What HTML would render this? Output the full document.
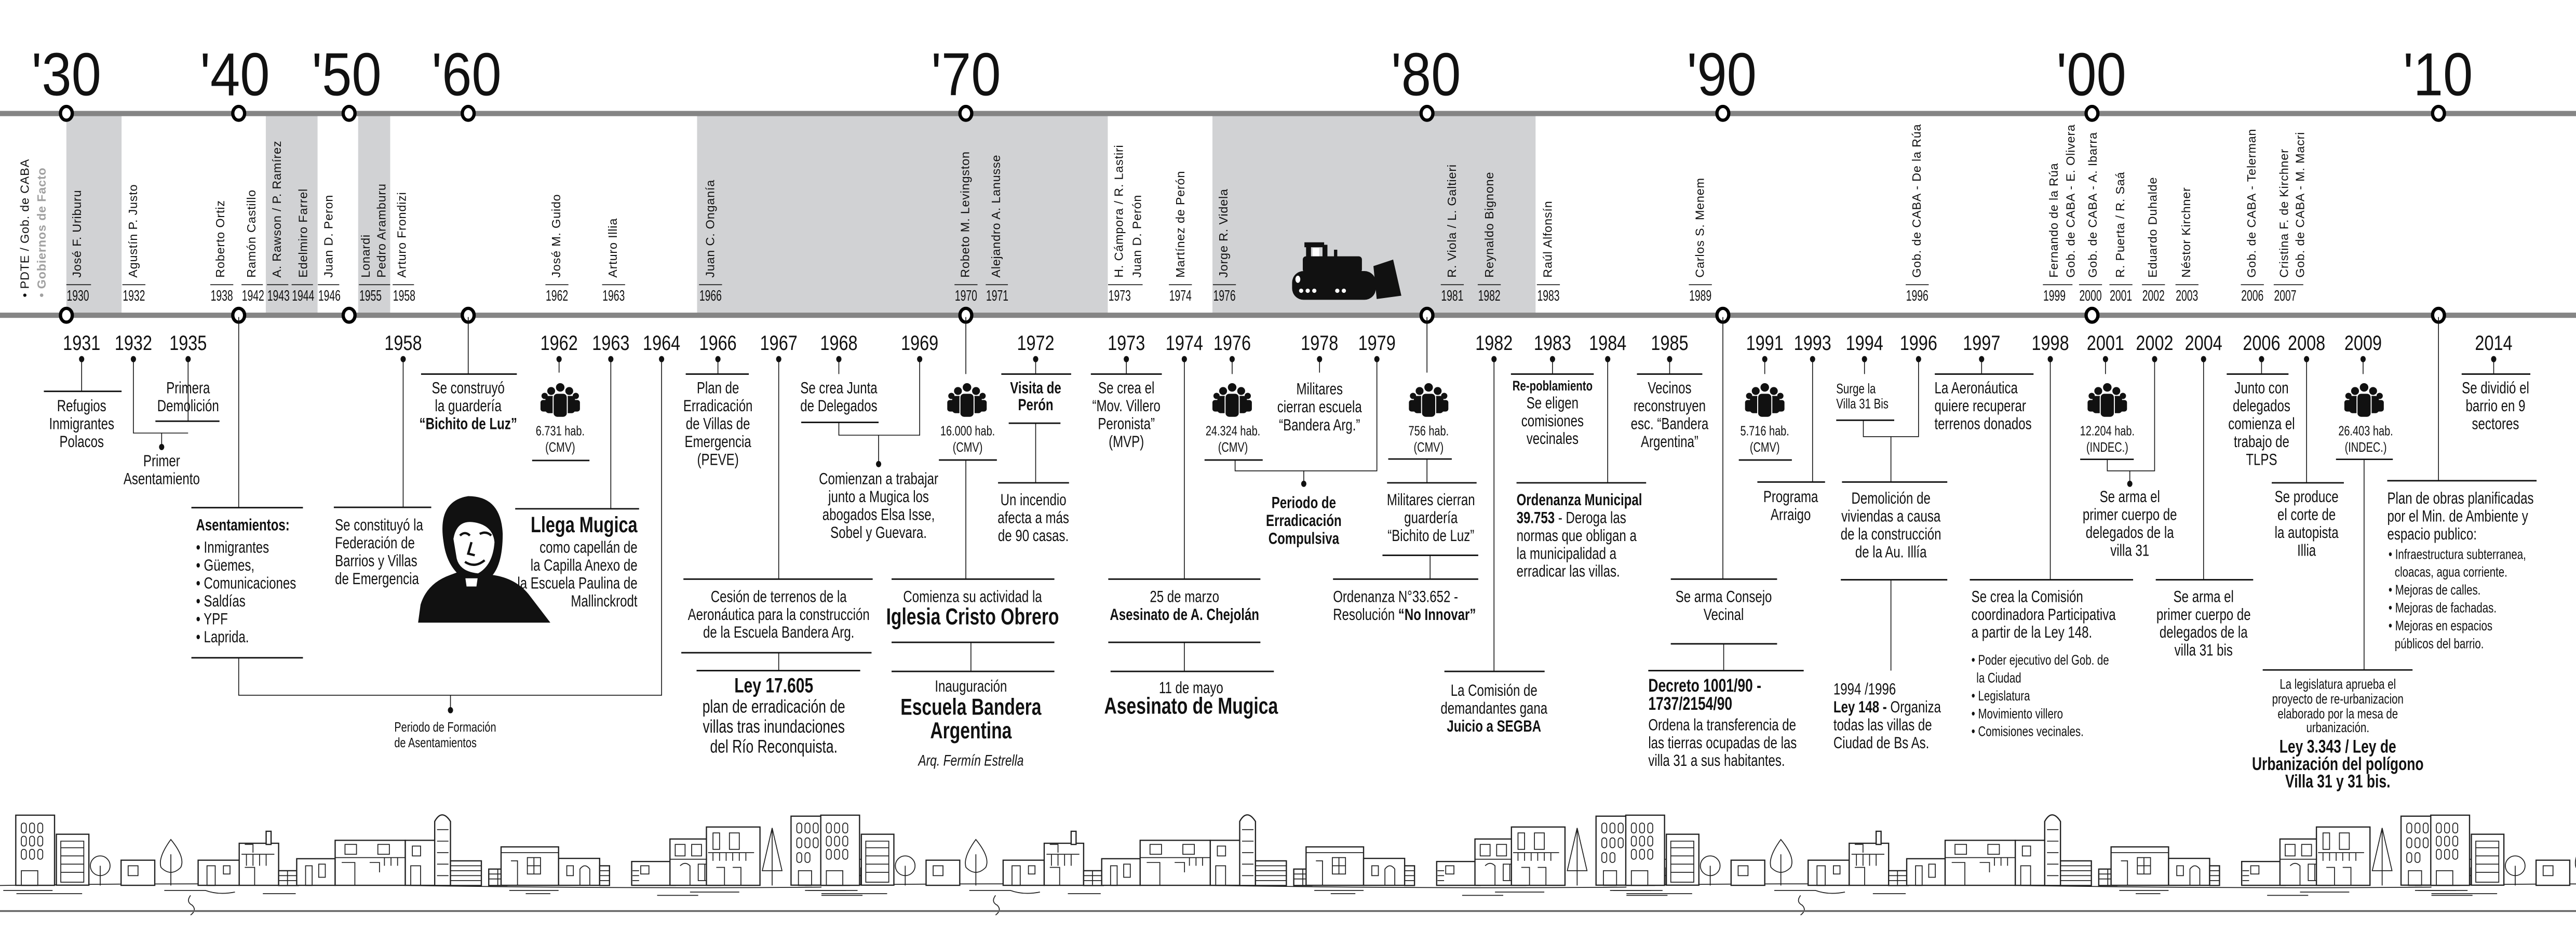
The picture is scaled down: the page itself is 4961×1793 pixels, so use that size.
<!DOCTYPE html>
<html><head><meta charset="utf-8">
<style>
html,body{margin:0;padding:0;background:#fff;}
svg{display:block;}
text{font-family:"Liberation Sans",Arial,sans-serif;fill:#111;}
.b{font-weight:bold;}
.h{stroke:#111;stroke-width:.9;fill:none;}
.v{stroke:#111;stroke-width:.5;fill:none;}
.gn{font-size:7.4px;letter-spacing:.25px;}
.sk{stroke:#222;stroke-width:.75;fill:#fff;}
.sk2{stroke:#222;stroke-width:.55;fill:none;}
</style></head>
<body>
<svg width="4961" height="1793" viewBox="0 0 1568 566.7" preserveAspectRatio="none" xmlns="http://www.w3.org/2000/svg">
<defs>
<g id="ppl" fill="#111">
<circle cx="-9.5" cy="8" r="1.9"/><rect x="-12" y="10.5" width="5" height="7" rx="1.5"/>
<circle cx="9.5" cy="8" r="1.9"/><rect x="7" y="10.5" width="5" height="7" rx="1.5"/>
<circle cx="-5.5" cy="5" r="2.4"/><rect x="-9" y="8" width="6.5" height="10.5" rx="2"/>
<circle cx="5.5" cy="5" r="2.4"/><rect x="2.5" y="8" width="6.5" height="10.5" rx="2"/>
<circle cx="0" cy="2.8" r="2.9" stroke="#fff" stroke-width=".6"/><rect x="-4.3" y="6.4" width="8.6" height="14.6" rx="2.5" stroke="#fff" stroke-width=".6"/>
</g>
<g id="city">
<path class="sk2" d="M0,539 Q120,537 250,539 T500,540"/>
<rect class="sk" x="9.6" y="496.2" width="23.6" height="42.7"/>
<g class="sk2"><rect x="13" y="501" width="3" height="6" rx="1.5"/><rect x="18" y="501" width="3" height="6" rx="1.5"/><rect x="23" y="501" width="3" height="6" rx="1.5"/><rect x="13" y="509" width="3" height="6" rx="1.5"/><rect x="18" y="509" width="3" height="6" rx="1.5"/><rect x="23" y="509" width="3" height="6" rx="1.5"/><rect x="13" y="517" width="3" height="6" rx="1.5"/><rect x="18" y="517" width="3" height="6" rx="1.5"/><rect x="23" y="517" width="3" height="6" rx="1.5"/><rect x="13" y="530" width="10" height="9"/></g>
<rect class="sk" x="34.3" y="507.8" width="19.8" height="31"/>
<path class="sk2" d="M37,512h14v25h-14zM37,516h14M37,521h14M37,526h14M37,531h14"/>
<circle class="sk2" cx="61" cy="527" r="6"/><path class="sk2" d="M61,527v12"/>
<rect class="sk" x="73.7" y="523.6" width="20.5" height="15.3"/><rect class="sk2" x="78" y="527" width="6" height="6"/>
<path class="sk2" d="M104,511 Q96,522 98,528 Q104,534 110,528 Q113,522 104,511zM104,520v19"/>
<rect class="sk" x="120.6" y="523.6" width="25" height="15.3"/><rect class="sk2" x="126" y="527" width="5" height="12"/><rect class="sk2" x="136" y="527" width="4" height="5"/>
<rect class="sk" x="145.6" y="513.3" width="24" height="25.6"/><rect class="sk" x="162" y="506" width="3" height="8"/><path class="sk2" d="M147,520h20M150,520v7M154,520v7M158,520v7M162,520v7M149,528h6v11M149,514h5v5"/>
<rect class="sk" x="169.6" y="530" width="12" height="9"/><path class="sk2" d="M169.6,533h12M169.6,536h12M175,530v9"/>
<rect class="sk" x="180.6" y="522.7" width="23.4" height="16.2"/><rect class="sk2" x="186" y="527" width="4" height="12"/><rect class="sk2" x="194" y="526" width="4" height="8"/>
<rect class="sk" x="204" y="511.5" width="42.7" height="27.4"/><path class="sk2" d="M204,522h42.7M210,514h7v6h-7zM230,514h7v6h-7zM208,525h8v14M225,525h6v6M234,522v5M238,522v5M242,522v5"/>
<rect class="sk" x="246.7" y="511.5" width="19" height="27.4"/><rect class="sk2" x="251" y="515" width="5" height="6"/><rect class="sk2" x="250" y="527" width="6" height="12"/>
<path class="sk" d="M264.6,539V500Q269,492 274.2,500V539z"/><path class="sk2" d="M266,505h7M266,512h7M266,519h7M266,526h7M266,533h7"/>
<rect class="sk" x="274.2" y="524" width="18.8" height="15"/><path class="sk2" d="M274.2,527h18.8M274.2,530h18.8M274.2,533h18.8M274.2,536h18.8"/>
<rect class="sk" x="297.5" y="529" width="11" height="10"/><path class="sk2" d="M297.5,532h11M297.5,535h11M303,529v10"/>
<rect class="sk" x="305" y="515.5" width="35" height="23.4"/><path class="sk2" d="M305,519h35M311,524h4v15M321,522h8v10h-8zM325,522v10M321,527h8"/>
<rect class="sk" x="340" y="522.5" width="25" height="16.4"/><rect class="sk2" x="345" y="527" width="4" height="6"/><path class="sk2" d="M353,539v-10q3,-4 6,0v10"/>
<rect class="sk" x="365" y="527" width="6" height="12"/><path class="sk2" d="M365,530h6M365,533h6M365,536h6"/>
<rect class="sk" x="384.5" y="524.4" width="26.5" height="14.5"/><rect class="sk2" x="390" y="527" width="5" height="5"/><path class="sk2" d="M385,530h4M385,533h4M385,536h4"/>
<rect class="sk" x="407.8" y="510.7" width="30.9" height="28.2"/><path class="sk2" d="M411,514h6v7h-6zM421,514h6v7h-6zM407.8,523h30.9M414,527q3,-3 6,0v12M425,526h8v10h-8zM429,526v10"/>
<rect class="sk" x="430" y="503.4" width="32.6" height="35.5"/><path class="sk2" d="M434,507h4v10h-4zM444,507h6v10h-6zM431,519h28M434,519v5M438,519v5M442,519v5M446,519v5M450,519v5M454,519v5M436,528h5v11M446,528h5v11"/>
<path class="sk2" d="M470,504L464,530L476,530zM470,504v35"/>
<rect class="sk" x="481.5" y="496.8" width="30.8" height="42"/><g class="sk2"><rect x="485" y="501" width="3" height="6" rx="1.5"/><rect x="490" y="501" width="3" height="6" rx="1.5"/><rect x="495" y="501" width="3" height="6" rx="1.5"/><rect x="485" y="510" width="3" height="6" rx="1.5"/><rect x="490" y="510" width="3" height="6" rx="1.5"/><rect x="495" y="510" width="3" height="6" rx="1.5"/><rect x="485" y="519" width="3" height="6" rx="1.5"/><rect x="490" y="519" width="3" height="6" rx="1.5"/><rect x="486" y="530" width="8" height="9"/></g>
<rect class="sk" x="500" y="508.3" width="17" height="30.6"/><path class="sk2" d="M503,512h11v24h-11zM503,517h11M503,522h11M503,527h11M503,532h11"/>
<circle class="sk2" cx="524" cy="528" r="5"/><path class="sk2" d="M524,528v11"/>
<path class="sk2" d="M2,542h30M10,544h40M100,542h25q8,3 18,1M160,544h20M310,542h30M320,544h15M400,545h25M420,543h30M490,542h25M500,545h25M116,545q-3,4 1,6q3,3 -1,6"/>
</g>
</defs>

<!-- grey bands -->
<g fill="#d1d2d4">
<rect x="40.4" y="70.5" width="33.6" height="120"/>
<rect x="161.8" y="70.5" width="31.5" height="120"/>
<rect x="218" y="70.5" width="19.5" height="120"/>
<rect x="424.3" y="70.5" width="250" height="120"/>
<rect x="738" y="70.5" width="196.7" height="120"/>
</g>

<!-- bars -->
<rect x="0" y="67.5" width="1568" height="3.2" fill="#858585"/>
<rect x="0" y="190.3" width="1568" height="3.2" fill="#858585"/>

<!-- decade labels -->
<g font-size="37">
<text transform="translate(40.4 0) scale(.88 1)" text-anchor="middle" y="58">'30</text>
<text transform="translate(143 0) scale(.88 1)" text-anchor="middle" y="58">'40</text>
<text transform="translate(211 0) scale(.88 1)" text-anchor="middle" y="58">'50</text>
<text transform="translate(284 0) scale(.88 1)" text-anchor="middle" y="58">'60</text>
<text transform="translate(588 0) scale(.88 1)" text-anchor="middle" y="58">'70</text>
<text transform="translate(868 0) scale(.88 1)" text-anchor="middle" y="58">'80</text>
<text transform="translate(1048 0) scale(.88 1)" text-anchor="middle" y="58">'90</text>
<text transform="translate(1273 0) scale(.88 1)" text-anchor="middle" y="58">'00</text>
<text transform="translate(1484 0) scale(.88 1)" text-anchor="middle" y="58">'10</text>
</g>

<!-- decade circles -->
<g fill="#fff" stroke="#000" stroke-width="2">
<ellipse cx="40.4" cy="69" rx="3.6" ry="4.2"/><ellipse cx="145.3" cy="69" rx="3.6" ry="4.2"/><ellipse cx="212.5" cy="69" rx="3.6" ry="4.2"/><ellipse cx="285" cy="69" rx="3.6" ry="4.2"/><ellipse cx="587.9" cy="69" rx="3.6" ry="4.2"/><ellipse cx="868.6" cy="69" rx="3.6" ry="4.2"/><ellipse cx="1048.7" cy="69" rx="3.6" ry="4.2"/><ellipse cx="1273.4" cy="69" rx="3.6" ry="4.2"/><ellipse cx="1484.3" cy="69" rx="3.6" ry="4.2"/>
<ellipse cx="40.4" cy="191.9" rx="3.6" ry="4.2"/><ellipse cx="145.3" cy="191.9" rx="3.6" ry="4.2"/><ellipse cx="212.5" cy="191.9" rx="3.6" ry="4.2"/><ellipse cx="285" cy="191.9" rx="3.6" ry="4.2"/><ellipse cx="587.9" cy="191.9" rx="3.6" ry="4.2"/><ellipse cx="868.6" cy="191.9" rx="3.6" ry="4.2"/><ellipse cx="1048.7" cy="191.9" rx="3.6" ry="4.2"/><ellipse cx="1273.4" cy="191.9" rx="3.6" ry="4.2"/><ellipse cx="1484.3" cy="191.9" rx="3.6" ry="4.2"/>
</g>

<!-- legend -->
<text class="gn" transform="translate(17.5 181) rotate(-90)">• PDTE / Gob. de CABA</text>
<text class="gn b" style="fill:#a0a0a0" transform="translate(27.8 181) rotate(-90)">• Gobiernos de Facto</text>

<!-- government names -->
<g class="gn">
<text transform="translate(49.3 169) rotate(-90)">José F. Uriburu</text>
<text transform="translate(83.5 169) rotate(-90)">Agustín P. Justo</text>
<text transform="translate(136.6 169) rotate(-90)">Roberto Ortiz</text>
<text transform="translate(155.5 169) rotate(-90)">Ramón Castillo</text>
<text transform="translate(171 169) rotate(-90)">A. Rawson / P. Ramírez</text>
<text transform="translate(187 169) rotate(-90)">Edelmiro Farrel</text>
<text transform="translate(202.5 169) rotate(-90)">Juan D. Peron</text>
<text transform="translate(225 169) rotate(-90)">Lonardi</text>
<text transform="translate(234.7 169) rotate(-90)">Pedro Aramburu</text>
<text transform="translate(247 169) rotate(-90)">Arturo Frondizi</text>
<text transform="translate(341 169) rotate(-90)">José M. Guido</text>
<text transform="translate(375.5 169) rotate(-90)">Arturo Illia</text>
<text transform="translate(434.8 169) rotate(-90)">Juan C. Onganía</text>
<text transform="translate(590 169) rotate(-90)">Robeto M. Levingston</text>
<text transform="translate(608.8 169) rotate(-90)">Alejandro A. Lanusse</text>
<text transform="translate(683.5 169) rotate(-90)">H. Cámpora / R. Lastiri</text>
<text transform="translate(694.5 169) rotate(-90)">Juan D. Perón</text>
<text transform="translate(720.9 169) rotate(-90)">Martínez de Perón</text>
<text transform="translate(747.2 169) rotate(-90)">Jorge R. Videla</text>
<text transform="translate(886.3 169) rotate(-90)">R. Viola / L. Galtieri</text>
<text transform="translate(909 169) rotate(-90)">Reynaldo Bignone</text>
<text transform="translate(944.6 169) rotate(-90)">Raúl Alfonsín</text>
<text transform="translate(1037.1 169) rotate(-90)">Carlos S. Menem</text>
<text transform="translate(1169.2 169) rotate(-90)">Gob. de CABA - De la Rúa</text>
<text transform="translate(1252.5 169) rotate(-90)">Fernando de la Rúa</text>
<text transform="translate(1262.9 169) rotate(-90)">Gob. de CABA - E. Olivera</text>
<text transform="translate(1276.3 169) rotate(-90)">Gob. de CABA - A. Ibarra</text>
<text transform="translate(1293 169) rotate(-90)">R. Puerta / R. Saá</text>
<text transform="translate(1312.8 169) rotate(-90)">Eduardo Duhalde</text>
<text transform="translate(1333.2 169) rotate(-90)">Néstor Kirchner</text>
<text transform="translate(1373 169) rotate(-90)">Gob. de CABA - Telerman</text>
<text transform="translate(1392.8 169) rotate(-90)">Cristina F. de Kirchner</text>
<text transform="translate(1402.5 169) rotate(-90)">Gob. de CABA - M. Macri</text>
</g>
<!-- government ticks -->
<path class="v" stroke-width=".7" d="M40.4,173.3h15M74.5,173.3h14M128,173.3h14M147,173.3h13M162.5,173.3h13M177.5,173.3h13M193.5,173.3h13M218.5,173.3h19M239,173.3h13M332,173.3h14M366.5,173.3h14M425.5,173.3h14M581,173.3h14M600,173.3h13.5M674.5,173.3h21M711.5,173.3h14M738.3,173.3h14M877,173.3h14M899.5,173.3h14M935.5,173.3h14M1028,173.3h14M1160,173.3h14M1243.5,173.3h18M1265.5,173.3h14M1284,173.3h14M1303.8,173.3h14M1324.2,173.3h14M1364,173.3h14M1384,173.3h18"/>
<g font-size="9">
<text transform="translate(40.6 0) scale(.68 1)" y="183">1930</text>
<text transform="translate(74.7 0) scale(.68 1)" y="183">1932</text>
<text transform="translate(128.2 0) scale(.68 1)" y="183">1938</text>
<text transform="translate(147.2 0) scale(.68 1)" y="183">1942</text>
<text transform="translate(162.7 0) scale(.68 1)" y="183">1943</text>
<text transform="translate(177.7 0) scale(.68 1)" y="183">1944</text>
<text transform="translate(193.7 0) scale(.68 1)" y="183">1946</text>
<text transform="translate(218.7 0) scale(.68 1)" y="183">1955</text>
<text transform="translate(239.2 0) scale(.68 1)" y="183">1958</text>
<text transform="translate(332.2 0) scale(.68 1)" y="183">1962</text>
<text transform="translate(366.7 0) scale(.68 1)" y="183">1963</text>
<text transform="translate(425.7 0) scale(.68 1)" y="183">1966</text>
<text transform="translate(581.2 0) scale(.68 1)" y="183">1970</text>
<text transform="translate(600.2 0) scale(.68 1)" y="183">1971</text>
<text transform="translate(674.7 0) scale(.68 1)" y="183">1973</text>
<text transform="translate(711.7 0) scale(.68 1)" y="183">1974</text>
<text transform="translate(738.5 0) scale(.68 1)" y="183">1976</text>
<text transform="translate(877.2 0) scale(.68 1)" y="183">1981</text>
<text transform="translate(899.7 0) scale(.68 1)" y="183">1982</text>
<text transform="translate(935.7 0) scale(.68 1)" y="183">1983</text>
<text transform="translate(1028.2 0) scale(.68 1)" y="183">1989</text>
<text transform="translate(1160.2 0) scale(.68 1)" y="183">1996</text>
<text transform="translate(1243.7 0) scale(.68 1)" y="183">1999</text>
<text transform="translate(1265.7 0) scale(.68 1)" y="183">2000</text>
<text transform="translate(1284.2 0) scale(.68 1)" y="183">2001</text>
<text transform="translate(1304 0) scale(.68 1)" y="183">2002</text>
<text transform="translate(1324.4 0) scale(.68 1)" y="183">2003</text>
<text transform="translate(1364.2 0) scale(.68 1)" y="183">2006</text>
<text transform="translate(1384.2 0) scale(.68 1)" y="183">2007</text>
</g>

<!-- bulldozer -->
<g fill="#111">
<rect x="794" y="147.5" width="12" height="3"/>
<rect x="795" y="149" width="3" height="14"/><rect x="805" y="149" width="3" height="14"/>
<rect x="793" y="156" width="36" height="10" rx="2"/>
<rect x="812" y="152" width="2" height="8"/>
<rect x="786.5" y="165" width="51" height="17.5" rx="7"/>
<path d="M836,162 L848,158 L853,180 L838,182 Z"/>
</g>
<g fill="#fff"><circle cx="792" cy="177" r="1.3"/><circle cx="796" cy="177" r="1.3"/><circle cx="800" cy="177" r="1.3"/><circle cx="814" cy="177" r="1.3"/><circle cx="818" cy="177" r="1.3"/><ellipse cx="790" cy="170" rx="1.5" ry="2.2"/><rect x="799" y="151" width="4" height="5"/></g>

<!-- bottom year labels -->
<g font-size="12.5">
<text transform="translate(49.7 0) scale(.82 1)" text-anchor="middle" y="213">1931</text>
<text transform="translate(81.2 0) scale(.82 1)" text-anchor="middle" y="213">1932</text>
<text transform="translate(114.5 0) scale(.82 1)" text-anchor="middle" y="213">1935</text>
<text transform="translate(245.4 0) scale(.82 1)" text-anchor="middle" y="213">1958</text>
<text transform="translate(340.3 0) scale(.82 1)" text-anchor="middle" y="213">1962</text>
<text transform="translate(371.8 0) scale(.82 1)" text-anchor="middle" y="213">1963</text>
<text transform="translate(402.7 0) scale(.82 1)" text-anchor="middle" y="213">1964</text>
<text transform="translate(437 0) scale(.82 1)" text-anchor="middle" y="213">1966</text>
<text transform="translate(474 0) scale(.82 1)" text-anchor="middle" y="213">1967</text>
<text transform="translate(510.6 0) scale(.82 1)" text-anchor="middle" y="213">1968</text>
<text transform="translate(559.8 0) scale(.82 1)" text-anchor="middle" y="213">1969</text>
<text transform="translate(630.4 0) scale(.82 1)" text-anchor="middle" y="213">1972</text>
<text transform="translate(685.6 0) scale(.82 1)" text-anchor="middle" y="213">1973</text>
<text transform="translate(720.9 0) scale(.82 1)" text-anchor="middle" y="213">1974</text>
<text transform="translate(750 0) scale(.82 1)" text-anchor="middle" y="213">1976</text>
<text transform="translate(803.2 0) scale(.82 1)" text-anchor="middle" y="213">1978</text>
<text transform="translate(838.1 0) scale(.82 1)" text-anchor="middle" y="213">1979</text>
<text transform="translate(909.4 0) scale(.82 1)" text-anchor="middle" y="213">1982</text>
<text transform="translate(945 0) scale(.82 1)" text-anchor="middle" y="213">1983</text>
<text transform="translate(978.6 0) scale(.82 1)" text-anchor="middle" y="213">1984</text>
<text transform="translate(1016.3 0) scale(.82 1)" text-anchor="middle" y="213">1985</text>
<text transform="translate(1074.2 0) scale(.82 1)" text-anchor="middle" y="213">1991</text>
<text transform="translate(1103.3 0) scale(.82 1)" text-anchor="middle" y="213">1993</text>
<text transform="translate(1134.9 0) scale(.82 1)" text-anchor="middle" y="213">1994</text>
<text transform="translate(1167.8 0) scale(.82 1)" text-anchor="middle" y="213">1996</text>
<text transform="translate(1206.2 0) scale(.82 1)" text-anchor="middle" y="213">1997</text>
<text transform="translate(1248 0) scale(.82 1)" text-anchor="middle" y="213">1998</text>
<text transform="translate(1281.6 0) scale(.82 1)" text-anchor="middle" y="213">2001</text>
<text transform="translate(1311.5 0) scale(.82 1)" text-anchor="middle" y="213">2002</text>
<text transform="translate(1341.3 0) scale(.82 1)" text-anchor="middle" y="213">2004</text>
<text transform="translate(1376.6 0) scale(.82 1)" text-anchor="middle" y="213">2006</text>
<text transform="translate(1404 0) scale(.82 1)" text-anchor="middle" y="213">2008</text>
<text transform="translate(1438.4 0) scale(.82 1)" text-anchor="middle" y="213">2009</text>
<text transform="translate(1517.9 0) scale(.82 1)" text-anchor="middle" y="213">2014</text>
</g>
<!-- dots -->
<g fill="#111">
<ellipse cx="49.7" cy="218.6" rx="1.6" ry="1.9"/><ellipse cx="81.2" cy="218.6" rx="1.6" ry="1.9"/><ellipse cx="114.5" cy="218.6" rx="1.6" ry="1.9"/><ellipse cx="245.4" cy="218.6" rx="1.6" ry="1.9"/><ellipse cx="340.3" cy="218.6" rx="1.6" ry="1.9"/><ellipse cx="371.8" cy="218.6" rx="1.6" ry="1.9"/><ellipse cx="402.7" cy="218.6" rx="1.6" ry="1.9"/><ellipse cx="437" cy="218.6" rx="1.6" ry="1.9"/><ellipse cx="474" cy="218.6" rx="1.6" ry="1.9"/><ellipse cx="510.6" cy="218.6" rx="1.6" ry="1.9"/><ellipse cx="559.8" cy="218.6" rx="1.6" ry="1.9"/><ellipse cx="630.4" cy="218.6" rx="1.6" ry="1.9"/><ellipse cx="685.6" cy="218.6" rx="1.6" ry="1.9"/><ellipse cx="720.9" cy="218.6" rx="1.6" ry="1.9"/><ellipse cx="750" cy="218.6" rx="1.6" ry="1.9"/><ellipse cx="803.2" cy="218.6" rx="1.6" ry="1.9"/><ellipse cx="838.1" cy="218.6" rx="1.6" ry="1.9"/><ellipse cx="909.4" cy="218.6" rx="1.6" ry="1.9"/><ellipse cx="945" cy="218.6" rx="1.6" ry="1.9"/><ellipse cx="978.6" cy="218.6" rx="1.6" ry="1.9"/><ellipse cx="1016.3" cy="218.6" rx="1.6" ry="1.9"/><ellipse cx="1074.2" cy="218.6" rx="1.6" ry="1.9"/><ellipse cx="1103.3" cy="218.6" rx="1.6" ry="1.9"/><ellipse cx="1134.9" cy="218.6" rx="1.6" ry="1.9"/><ellipse cx="1167.8" cy="218.6" rx="1.6" ry="1.9"/><ellipse cx="1206.2" cy="218.6" rx="1.6" ry="1.9"/><ellipse cx="1248" cy="218.6" rx="1.6" ry="1.9"/><ellipse cx="1281.6" cy="218.6" rx="1.6" ry="1.9"/><ellipse cx="1311.5" cy="218.6" rx="1.6" ry="1.9"/><ellipse cx="1341.3" cy="218.6" rx="1.6" ry="1.9"/><ellipse cx="1376.6" cy="218.6" rx="1.6" ry="1.9"/><ellipse cx="1404" cy="218.6" rx="1.6" ry="1.9"/><ellipse cx="1438.4" cy="218.6" rx="1.6" ry="1.9"/><ellipse cx="1517.9" cy="218.6" rx="1.6" ry="1.9"/>
<ellipse cx="98.4" cy="272.1" rx="1.6" ry="1.9"/><ellipse cx="274.2" cy="432.3" rx="1.6" ry="1.9"/><ellipse cx="534.8" cy="282.5" rx="1.6" ry="1.9"/><ellipse cx="793.6" cy="294.5" rx="1.6" ry="1.9"/><ellipse cx="1296.4" cy="294.5" rx="1.6" ry="1.9"/>
</g>

<!-- vertical connectors -->
<path class="v" d="
M49.7,218.6V238.2 M114.5,218.6V256.4 M81.2,218.6V263.6H114.5 M98.4,263.6V272.1
M145.3,193V309 M145.3,400.4V423.2H402.7V218.6 M274.2,423.2V432.3
M245.4,218.6V308.8 M285,193V227.7 M340.3,218.6V226.8 M371.8,218.6V309.7
M437,218.6V227.7 M474,218.6V352.5 M474,397.3V408.2
M510.6,218.6V227.7 M510.6,257.1V264.9H559.8V218.6 M534.8,264.9V282.5
M587.9,193V227.7 M587.9,280V352.5 M591,391V408.7
M630.4,218.6V227.7 M630.4,257.6V293.9 M685.6,218.6V227.7 M720.9,218.6V352.5 M720.9,391V408.7
M750,218.6V227.7 M751.8,280V286.6H838.1V218.6 M793.6,286.6V294.5 M803.2,218.6V226.8
M868.6,193V226.8 M868.6,279.4V293.9 M870.5,338V352.5
M909.4,218.6V408.7 M945,218.6V227.7 M978.6,218.6V293.9 M1016.3,218.6V227.7
M1048.7,193V352.5 M1049.2,391.9V408.2
M1074.2,218.6V227.7 M1103.3,218.6V293.4 M1134.9,218.6V227.7 M1134.2,255.8V265.8H1167.8V218.6 M1151,265.8V293.4 M1151,352.9V408.2
M1206.2,218.6V227.7 M1248,218.6V352.9 M1281.6,218.6V227.7 M1282.7,279.6V286.6H1311.5V218.6 M1296.4,286.6V294.5
M1341.3,218.6V352.9 M1376.6,218.6V227.7 M1404,218.6V293.9 M1438.4,218.6V227.7 M1439,279.6V407.8
M1484.3,193V292.6 M1517.9,218.6V227.7"/>

<!-- horizontal lines -->
<path class="h" d="
M26.7,238.2H74 M94.6,256.4H133.6
M116.5,309H184.4 M116.5,400.4H184.4
M203.2,308.8H262.5 M256.3,227.7H314.6 M323.9,280.3H358.8 M313.6,309.7H389
M417.4,227.7H455.8 M416,352.5H531.2 M414.7,397.3H530.5 M424,408.2H523.6
M487.7,257.1H534.8
M571.5,280H606.8 M542.7,352.5H641.8 M542.7,391H641.8 M542.7,408.7H641.8
M609.5,227.7H652 M614,257.6H645.5 M607.5,293.9H650.7
M664,227.7H707.2 M674.6,352.5H767.2 M674.6,391H767.2 M676,408.7H775.4
M733.2,280H768.6
M845,279.4H883.7 M844.3,293.9H898.8 M841.5,338H899.8 M811.4,352.5H899.8
M879.2,408.7H940.2 M919.7,227.7H970.1 M923.1,293.9H1002 M996.4,227.7H1036.2
M1017,352.5H1081.7 M1017,391.9H1081.7 M1003.3,408.2H1097.9
M1058.4,280H1090.7 M1069.7,293.4H1110.9 M1117.7,255.8H1153 M1121.2,293.4H1185.3 M1120.5,352.9H1185.3
M1177.7,227.7H1237.8 M1199,352.9H1298.4 M1266.2,279.6H1298.8 M1312.2,352.9H1371.5
M1355.4,227.7H1393 M1382.8,293.9H1426.7 M1421.9,279.6H1456.5 M1377.3,407.8H1468.5
M1453.1,292.6H1544 M1498.4,227.7H1540.2"/>

<!-- people icons -->
<use href="#ppl" x="341" y="233"/>
<use href="#ppl" x="588.6" y="233"/>
<use href="#ppl" x="750" y="233"/>
<use href="#ppl" x="869.6" y="233"/>
<use href="#ppl" x="1074.2" y="233"/>
<use href="#ppl" x="1282.7" y="233"/>
<use href="#ppl" x="1439" y="233"/>
<g font-size="8.3">
<text transform="translate(341 0) scale(.76 1)" text-anchor="middle"><tspan x="0" y="265">6.731 hab.</tspan><tspan x="0" y="275">(CMV)</tspan></text>
<text transform="translate(589 0) scale(.76 1)" text-anchor="middle"><tspan x="0" y="265">16.000 hab.</tspan><tspan x="0" y="275">(CMV)</tspan></text>
<text transform="translate(750.5 0) scale(.76 1)" text-anchor="middle"><tspan x="0" y="265">24.324 hab.</tspan><tspan x="0" y="275">(CMV)</tspan></text>
<text transform="translate(869.6 0) scale(.76 1)" text-anchor="middle"><tspan x="0" y="265">756 hab.</tspan><tspan x="0" y="275">(CMV)</tspan></text>
<text transform="translate(1074.2 0) scale(.76 1)" text-anchor="middle"><tspan x="0" y="265">5.716 hab.</tspan><tspan x="0" y="275">(CMV)</tspan></text>
<text transform="translate(1282.7 0) scale(.76 1)" text-anchor="middle"><tspan x="0" y="265">12.204 hab.</tspan><tspan x="0" y="275">(INDEC.)</tspan></text>
<text transform="translate(1440 0) scale(.76 1)" text-anchor="middle"><tspan x="0" y="265">26.403 hab.</tspan><tspan x="0" y="275">(INDEC.)</tspan></text>
</g>

<!-- priest portrait -->
<g>
<path fill="#111" d="M254.5,379 L256,368 Q260,355 274,350 L282,347 L300,350 Q314,352 322,362 L335,379 Z"/>
<path fill="#fff" d="M283,350 L291,350 L290,357 L284,357 Z"/>
<path fill="#111" d="M270,330 Q266,305 285,302 Q305,302 306,325 Q306,345 298,352 L282,352 Q272,345 270,330 Z"/>
<path fill="#fff" d="M276,328 Q278,316 289,318 Q300,320 301,330 Q300,344 291,349 Q280,348 278,340 Z"/>
<path fill="none" stroke="#111" stroke-width="1.4" d="M280,326 Q283,323 286,326 M292,325 Q296,323 299,326 M287,330 L285,337 L289,338 M283,342 Q289,346 295,341"/>
</g>

<!-- ===== EVENT TEXTS ===== -->
<g font-size="10">
<text transform="translate(49.7 0) scale(.76 1)" text-anchor="middle"><tspan x="0" y="250.4">Refugios</tspan><tspan x="0" y="261.3">Inmigrantes</tspan><tspan x="0" y="272.1">Polacos</tspan></text>
<text transform="translate(114.5 0) scale(.76 1)" text-anchor="middle"><tspan x="0" y="239.5">Primera</tspan><tspan x="0" y="250.4">Demolición</tspan></text>
<text transform="translate(98.4 0) scale(.76 1)" text-anchor="middle"><tspan x="0" y="283.9">Primer</tspan><tspan x="0" y="294.8">Asentamiento</tspan></text>
<text transform="translate(119.3 0) scale(.76 1)"><tspan x="0" y="322.9" class="b">Asentamientos:</tspan><tspan x="0" y="336.5">• Inmigrantes</tspan><tspan x="0" y="347.4">• Güemes,</tspan><tspan x="0" y="358.3">• Comunicaciones</tspan><tspan x="0" y="369.2">• Saldías</tspan><tspan x="0" y="380">• YPF</tspan><tspan x="0" y="390.9">• Laprida.</tspan></text>
<text transform="translate(240 0) scale(.76 1)" font-size="8.3"><tspan x="0" y="445.4">Periodo de Formación</tspan><tspan x="0" y="454.8">de Asentamientos</tspan></text>
<text transform="translate(203.9 0) scale(.76 1)"><tspan x="0" y="322.9">Se constituyó la</tspan><tspan x="0" y="333.8">Federación de</tspan><tspan x="0" y="344.7">Barrios y Villas</tspan><tspan x="0" y="355.6">de Emergencia</tspan></text>
<text transform="translate(285 0) scale(.76 1)" text-anchor="middle"><tspan x="0" y="239.5">Se construyó</tspan><tspan x="0" y="250.4">la guardería</tspan><tspan x="0" y="261.3" class="b">“Bichito de Luz”</tspan></text>
<text transform="translate(388 0) scale(.76 1)" text-anchor="end"><tspan x="0" y="324" class="b" font-size="13.5">Llega Mugica</tspan><tspan x="0" y="336.5">como capellán de</tspan><tspan x="0" y="347.4">la Capilla Anexo de</tspan><tspan x="0" y="358.3">la Escuela Paulina de</tspan><tspan x="0" y="369.2">Mallinckrodt</tspan></text>
<text transform="translate(437 0) scale(.76 1)" text-anchor="middle"><tspan x="0" y="239.5">Plan de</tspan><tspan x="0" y="250.4">Erradicación</tspan><tspan x="0" y="261.3">de Villas de</tspan><tspan x="0" y="272.1">Emergencia</tspan><tspan x="0" y="283">(PEVE)</tspan></text>
<text transform="translate(474 0) scale(.76 1)" text-anchor="middle"><tspan x="0" y="366.5">Cesión de terrenos de la</tspan><tspan x="0" y="377.4">Aeronáutica para la construcción</tspan><tspan x="0" y="388.2">de la Escuela Bandera Arg.</tspan></text>
<text transform="translate(471 0) scale(.76 1)" text-anchor="middle"><tspan x="0" y="421.5" class="b" font-size="12.5">Ley 17.605</tspan><tspan x="0" y="433.8" font-size="11">plan de erradicación de</tspan><tspan x="0" y="446" font-size="11">villas tras inundaciones</tspan><tspan x="0" y="458.2" font-size="11">del Río Reconquista.</tspan></text>
<text transform="translate(510.6 0) scale(.76 1)" text-anchor="middle"><tspan x="0" y="239.5">Se crea Junta</tspan><tspan x="0" y="250.4">de Delegados</tspan></text>
<text transform="translate(534.8 0) scale(.76 1)" text-anchor="middle"><tspan x="0" y="294.8">Comienzan a trabajar</tspan><tspan x="0" y="305.7">junto a Mugica los</tspan><tspan x="0" y="316.6">abogados Elsa Isse,</tspan><tspan x="0" y="327.5">Sobel y Guevara.</tspan></text>
<text transform="translate(592 0) scale(.76 1)" text-anchor="middle"><tspan x="0" y="366.5">Comienza su actividad la</tspan><tspan x="0" y="380" class="b" font-size="14">Iglesia Cristo Obrero</tspan></text>
<text transform="translate(591 0) scale(.76 1)" text-anchor="middle"><tspan x="0" y="421">Inauguración</tspan><tspan x="0" y="435" class="b" font-size="14">Escuela Bandera</tspan><tspan x="0" y="449.5" class="b" font-size="14">Argentina</tspan><tspan x="0" y="466" font-style="italic" font-size="9.5">Arq. Fermín Estrella</tspan></text>
<text transform="translate(630.4 0) scale(.76 1)" text-anchor="middle" class="b"><tspan x="0" y="239.5">Visita de</tspan><tspan x="0" y="249.7">Perón</tspan></text>
<text transform="translate(629 0) scale(.76 1)" text-anchor="middle"><tspan x="0" y="307.5">Un incendio</tspan><tspan x="0" y="318.4">afecta a más</tspan><tspan x="0" y="329.3">de 90 casas.</tspan></text>
<text transform="translate(685.6 0) scale(.76 1)" text-anchor="middle"><tspan x="0" y="239.5">Se crea el</tspan><tspan x="0" y="250.4">“Mov. Villero</tspan><tspan x="0" y="261.3">Peronista”</tspan><tspan x="0" y="272.1">(MVP)</tspan></text>
<text transform="translate(721 0) scale(.76 1)" text-anchor="middle"><tspan x="0" y="366.5">25 de marzo</tspan><tspan x="0" y="377.4" class="b">Asesinato de A. Chejolán</tspan></text>
<text transform="translate(725 0) scale(.76 1)" text-anchor="middle"><tspan x="0" y="422">11 de mayo</tspan><tspan x="0" y="434.5" class="b" font-size="14">Asesinato de Mugica</tspan></text>
<text transform="translate(793.6 0) scale(.76 1)" text-anchor="middle" class="b"><tspan x="0" y="309.3">Periodo de</tspan><tspan x="0" y="320.2">Erradicación</tspan><tspan x="0" y="331.1">Compulsiva</tspan></text>
<text transform="translate(803.2 0) scale(.76 1)" text-anchor="middle"><tspan x="0" y="240">Militares</tspan><tspan x="0" y="251">cierran escuela</tspan><tspan x="0" y="262">“Bandera Arg.”</tspan></text>
<text transform="translate(871 0) scale(.76 1)" text-anchor="middle"><tspan x="0" y="307.5">Militares cierran</tspan><tspan x="0" y="318.4">guardería</tspan><tspan x="0" y="329.3">“Bichito de Luz”</tspan></text>
<text transform="translate(811.4 0) scale(.76 1)"><tspan x="0" y="366.5">Ordenanza N°33.652 -</tspan><tspan x="0" y="377.4">Resolución <tspan class="b">“No Innovar”</tspan></tspan></text>
<text transform="translate(909.4 0) scale(.76 1)" text-anchor="middle"><tspan x="0" y="423.6">La Comisión de</tspan><tspan x="0" y="434.5">demandantes gana</tspan><tspan x="0" y="445.4" class="b">Juicio a SEGBA</tspan></text>
<text transform="translate(945 0) scale(.76 1)" text-anchor="middle"><tspan x="0" y="237.7" class="b" font-size="8.5">Re-poblamiento</tspan><tspan x="0" y="248.6">Se eligen</tspan><tspan x="0" y="259.5">comisiones</tspan><tspan x="0" y="270.3">vecinales</tspan></text>
<text transform="translate(923.1 0) scale(.76 1)"><tspan x="0" y="307.5" class="b">Ordenanza Municipal</tspan><tspan x="0" y="318.4"><tspan class="b">39.753</tspan> - Deroga las</tspan><tspan x="0" y="329.3">normas que obligan a</tspan><tspan x="0" y="340.2">la municipalidad a</tspan><tspan x="0" y="351">erradicar las villas.</tspan></text>
<text transform="translate(1016.3 0) scale(.76 1)" text-anchor="middle"><tspan x="0" y="239.5">Vecinos</tspan><tspan x="0" y="250.4">reconstruyen</tspan><tspan x="0" y="261.3">esc. “Bandera</tspan><tspan x="0" y="272.1">Argentina”</tspan></text>
<text transform="translate(1049.2 0) scale(.76 1)" text-anchor="middle"><tspan x="0" y="366.5">Se arma Consejo</tspan><tspan x="0" y="377.4">Vecinal</tspan></text>
<text transform="translate(1003.3 0) scale(.76 1)"><tspan x="0" y="421" class="b" font-size="11">Decreto 1001/90 -</tspan><tspan x="0" y="432" class="b" font-size="11">1737/2154/90</tspan><tspan x="0" y="444.5">Ordena la transferencia de</tspan><tspan x="0" y="455.4">las tierras ocupadas de las</tspan><tspan x="0" y="466.2">villa 31 a sus habitantes.</tspan></text>
<text transform="translate(1090 0) scale(.76 1)" text-anchor="middle"><tspan x="0" y="305.7">Programa</tspan><tspan x="0" y="316.6">Arraigo</tspan></text>
<text transform="translate(1117.7 0) scale(.76 1)" font-size="8.5"><tspan x="0" y="239.5">Surge la</tspan><tspan x="0" y="248.6">Villa 31 Bis</tspan></text>
<text transform="translate(1151 0) scale(.76 1)" text-anchor="middle"><tspan x="0" y="306.6">Demolición de</tspan><tspan x="0" y="317.5">viviendas a causa</tspan><tspan x="0" y="328.4">de la construcción</tspan><tspan x="0" y="339.3">de la Au. Illía</tspan></text>
<text transform="translate(1116 0) scale(.76 1)"><tspan x="0" y="422.7">1994 /1996</tspan><tspan x="0" y="433.6"><tspan class="b">Ley 148 -</tspan> Organiza</tspan><tspan x="0" y="444.5">todas las villas de</tspan><tspan x="0" y="455.4">Ciudad de Bs As.</tspan></text>
<text transform="translate(1177.5 0) scale(.76 1)"><tspan x="0" y="239.5">La Aeronáutica</tspan><tspan x="0" y="250.4">quiere recuperar</tspan><tspan x="0" y="261.3">terrenos donados</tspan></text>
<text transform="translate(1200 0) scale(.76 1)"><tspan x="0" y="366.5">Se crea la Comisión</tspan><tspan x="0" y="377.4">coordinadora Participativa</tspan><tspan x="0" y="388.2">a partir de la Ley 148.</tspan><tspan x="0" y="404.6" font-size="8.5">• Poder ejecutivo del Gob. de</tspan><tspan x="4" y="415.5" font-size="8.5">la Ciudad</tspan><tspan x="0" y="426.3" font-size="8.5">• Legislatura</tspan><tspan x="0" y="437.2" font-size="8.5">• Movimiento villero</tspan><tspan x="0" y="448.1" font-size="8.5">• Comisiones vecinales.</tspan></text>
<text transform="translate(1296.4 0) scale(.76 1)" text-anchor="middle"><tspan x="0" y="305.7">Se arma el</tspan><tspan x="0" y="316.6">primer cuerpo de</tspan><tspan x="0" y="327.5">delegados de la</tspan><tspan x="0" y="338.3">villa 31</tspan></text>
<text transform="translate(1341.3 0) scale(.76 1)" text-anchor="middle"><tspan x="0" y="366.5">Se arma el</tspan><tspan x="0" y="377.4">primer cuerpo de</tspan><tspan x="0" y="388.2">delegados de la</tspan><tspan x="0" y="399.1">villa 31 bis</tspan></text>
<text transform="translate(1376.6 0) scale(.76 1)" text-anchor="middle"><tspan x="0" y="239.5">Junto con</tspan><tspan x="0" y="250.4">delegados</tspan><tspan x="0" y="261.3">comienza el</tspan><tspan x="0" y="272.1">trabajo de</tspan><tspan x="0" y="283">TLPS</tspan></text>
<text transform="translate(1404 0) scale(.76 1)" text-anchor="middle"><tspan x="0" y="305.7">Se produce</tspan><tspan x="0" y="316.6">el corte de</tspan><tspan x="0" y="327.5">la autopista</tspan><tspan x="0" y="338.3">Illia</tspan></text>
<text transform="translate(1423 0) scale(.76 1)" text-anchor="middle" font-size="8.5"><tspan x="0" y="419.3">La legislatura aprueba el</tspan><tspan x="0" y="428.2">proyecto de re-urbanizacion</tspan><tspan x="0" y="437.2">elaborado por la mesa de</tspan><tspan x="0" y="445.6">urbanización.</tspan></text>
<text transform="translate(1423 0) scale(.76 1)" text-anchor="middle" class="b" font-size="11"><tspan x="0" y="458.2">Ley 3.343 / Ley de</tspan><tspan x="0" y="468.7">Urbanización del polígono</tspan><tspan x="0" y="479.3">Villa 31 y 31 bis.</tspan></text>
<text transform="translate(1453.1 0) scale(.76 1)"><tspan x="0" y="306.6">Plan de obras planificadas</tspan><tspan x="0" y="317.5">por el Min. de Ambiente y</tspan><tspan x="0" y="328.4">espacio publico:</tspan><tspan x="1" y="340.2" font-size="8.5">• Infraestructura subterranea,</tspan><tspan x="6" y="351" font-size="8.5">cloacas, agua corriente.</tspan><tspan x="1" y="361.9" font-size="8.5">• Mejoras de calles.</tspan><tspan x="1" y="372.8" font-size="8.5">• Mejoras de fachadas.</tspan><tspan x="1" y="383.7" font-size="8.5">• Mejoras en espacios</tspan><tspan x="6" y="394.6" font-size="8.5">públicos del barrio.</tspan></text>
<text transform="translate(1519 0) scale(.76 1)" text-anchor="middle"><tspan x="0" y="239.5">Se dividió el</tspan><tspan x="0" y="250.4">barrio en 9</tspan><tspan x="0" y="261.3">sectores</tspan></text>
</g>

<!-- city skyline -->
<use href="#city" x="0" y="0"/>
<use href="#city" x="490" y="0"/>
<use href="#city" x="980" y="0"/>
<use href="#city" x="1470" y="0"/>
<rect x="0" y="554" width="1568" height="1.1" fill="#666"/>
</svg>
</body></html>
